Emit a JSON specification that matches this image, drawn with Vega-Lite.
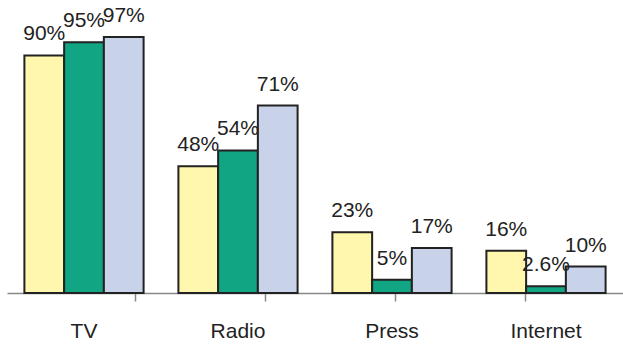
{
  "$schema": "https://vega.github.io/schema/vega-lite/v6.json",
  "autosize": {"type": "none"},
  "width": 616,
  "height": 264,
  "padding": {"left": 7, "top": 29, "right": 0, "bottom": 54},
  "background": "white",
  "config": {"view": {"stroke": null}, "font": "Liberation Sans"},
  "datasets": {
    "bars": [
      {"medium": "TV", "series": "s1", "value": 90, "label": "90%"},
      {"medium": "TV", "series": "s2", "value": 95, "label": "95%"},
      {"medium": "TV", "series": "s3", "value": 97, "label": "97%"},
      {"medium": "Radio", "series": "s1", "value": 48, "label": "48%"},
      {"medium": "Radio", "series": "s2", "value": 54, "label": "54%"},
      {"medium": "Radio", "series": "s3", "value": 71, "label": "71%"},
      {"medium": "Press", "series": "s1", "value": 23, "label": "23%"},
      {"medium": "Press", "series": "s2", "value": 5, "label": "5%"},
      {"medium": "Press", "series": "s3", "value": 17, "label": "17%"},
      {"medium": "Internet", "series": "s1", "value": 16, "label": "16%"},
      {"medium": "Internet", "series": "s2", "value": 2.6, "label": "2.6%"},
      {"medium": "Internet", "series": "s3", "value": 10, "label": "10%"}
    ],
    "ticks": [{"t": 0}]
  },
  "layer": [
    {
      "data": {"name": "ticks"},
      "mark": {"type": "point", "opacity": 0},
      "encoding": {
        "x": {
          "field": "t", "type": "quantitative",
          "scale": {"domain": [0.01, 4.756], "nice": false, "zero": false},
          "axis": {
            "title": null, "orient": "bottom", "values": [0, 1, 2, 3, 4], "labels": false,
            "domainColor": "#888888", "domainWidth": 1.5, "grid": false,
            "tickColor": "#888888", "tickSize": 8, "tickWidth": 1.5
          }
        }
      }
    },
    {
      "data": {"name": "bars"},
      "encoding": {
        "x": {
          "field": "medium", "type": "nominal", "sort": null,
          "scale": {"paddingInner": 0.226, "paddingOuter": 0.113},
          "axis": {
            "title": null, "orient": "bottom", "labelAngle": 0, "labelFontSize": 21, "labelColor": "#222222",
            "labelPadding": 27, "domain": false, "ticks": false, "tickSize": 8
          }
        },
        "xOffset": {"field": "series", "type": "nominal", "scale": {"paddingInner": 0, "paddingOuter": 0}},
        "y": {
          "field": "value", "type": "quantitative",
          "scale": {"domain": [0, 100], "nice": false},
          "axis": null
        }
      },
      "layer": [
        {
          "mark": {"type": "bar", "stroke": "#222222", "strokeWidth": 2},
          "encoding": {
            "color": {
              "field": "series", "type": "nominal", "legend": null,
              "scale": {"domain": ["s1", "s2", "s3"], "range": ["#FFF7AE", "#12A584", "#C8D3EA"]}
            }
          }
        },
        {
          "mark": {"type": "text", "baseline": "bottom", "dy": -11, "fontSize": 21, "color": "#222222"},
          "encoding": {"text": {"field": "label"}}
        }
      ]
    }
  ],
  "resolve": {"scale": {"x": "independent"}, "axis": {"x": "independent"}}
}
